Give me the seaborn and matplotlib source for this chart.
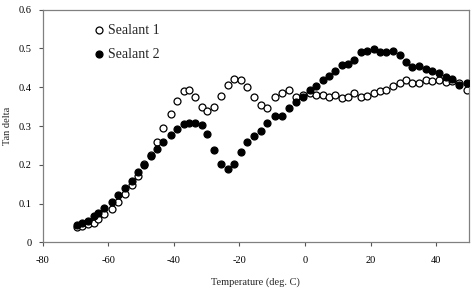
import matplotlib
matplotlib.use('Agg')
import matplotlib.pyplot as plt
import numpy as np
import pandas as pd
import seaborn as sns

temperature = [-69.7, -68.1, -66.1, -64.5, -63.0, -61.3, -58.9, -56.9, -54.9, -52.8,
               -50.8, -49.1, -47.0, -45.2, -43.2, -40.9, -38.9, -36.9, -35.4, -33.6,
               -31.3, -29.8, -27.7, -25.5, -23.5, -21.6, -19.6, -17.6, -15.5, -13.5,
               -11.5, -9.2, -7.1, -4.9, -2.8, -0.6, 1.4, 3.5, 5.5, 7.3,
               9.1, 11.2, 13.1, 15.1, 17.1, 19.0, 21.0, 23.0, 24.8, 26.8,
               28.9, 30.9, 32.8, 34.9, 36.8, 38.8, 40.9, 42.9, 44.9, 47.0, 49.3]
sealant1 = [0.039, 0.042, 0.047, 0.051, 0.061, 0.073, 0.086, 0.105, 0.125, 0.148,
            0.170, 0.203, 0.225, 0.258, 0.295, 0.331, 0.365, 0.391, 0.394, 0.375,
            0.349, 0.338, 0.349, 0.378, 0.406, 0.421, 0.419, 0.400, 0.376, 0.355,
            0.346, 0.376, 0.385, 0.394, 0.376, 0.380, 0.385, 0.379, 0.380, 0.376,
            0.380, 0.373, 0.376, 0.385, 0.376, 0.378, 0.385, 0.391, 0.392, 0.402,
            0.411, 0.418, 0.411, 0.411, 0.419, 0.417, 0.419, 0.413, 0.415, 0.410, 0.392]
sealant2 = [0.045, 0.050, 0.056, 0.067, 0.077, 0.088, 0.104, 0.123, 0.140, 0.159,
            0.181, 0.200, 0.224, 0.242, 0.260, 0.277, 0.293, 0.305, 0.308, 0.309,
            0.303, 0.279, 0.239, 0.203, 0.190, 0.203, 0.232, 0.258, 0.273, 0.286,
            0.309, 0.326, 0.326, 0.346, 0.362, 0.376, 0.392, 0.404, 0.419, 0.430,
            0.443, 0.456, 0.461, 0.471, 0.491, 0.494, 0.499, 0.490, 0.490, 0.492,
            0.484, 0.465, 0.452, 0.455, 0.448, 0.441, 0.437, 0.425, 0.422, 0.406, 0.412]
xticks = [-80, -60, -40, -20, 0, 20, 40]
yticks = [0, 0.1, 0.2, 0.3, 0.4, 0.5, 0.6]
ytick_labels = ['0', '0.1', '0.2', '0.3', '0.4', '0.5', '0.6']

df = pd.DataFrame({'T': temperature, 's1': sealant1, 's2': sealant2})

sns.set_style('white')
plt.rcParams['font.family'] = ['Liberation Serif', 'DejaVu Serif']
plt.rcParams['axes.unicode_minus'] = False

fig = plt.figure(figsize=(4.75, 2.9), dpi=100)
ax = fig.add_axes([0.090, 0.164, 0.897, 0.803])

sns.scatterplot(x='T', y='s1', data=df, ax=ax, color='white', edgecolor='black',
                linewidth=0.9, s=25, label='Sealant 1', zorder=2)
sns.scatterplot(x='T', y='s2', data=df, ax=ax, color='black', edgecolor='black',
                linewidth=0.9, s=25, label='Sealant 2', zorder=3)

ax.set_xlim(-80, 50)
ax.set_ylim(0, 0.6)
ax.set_xticks(xticks)
ax.set_yticks(yticks)
ax.set_yticklabels(ytick_labels)
ax.tick_params(axis='both', labelsize=7.5, direction='out', length=3, width=0.8,
               colors='#555555', labelcolor='black', bottom=True, left=True)
ax.tick_params(axis='x', pad=7)
ax.tick_params(axis='y', pad=5)
for sp in ax.spines.values():
    sp.set_color('#808080')
    sp.set_linewidth(0.9)

ax.set_xlabel('Temperature (deg. C)', fontsize=7.5, labelpad=9)
ax.set_ylabel('Tan delta', fontsize=7.5, labelpad=5)

leg = ax.legend(loc='upper left', frameon=False, fontsize=10, handlelength=0.8,
                handletextpad=0.25, borderpad=0, borderaxespad=0,
                labelspacing=0.8, bbox_to_anchor=(0.119, 0.94))

fig.savefig('out.png', dpi=100)
